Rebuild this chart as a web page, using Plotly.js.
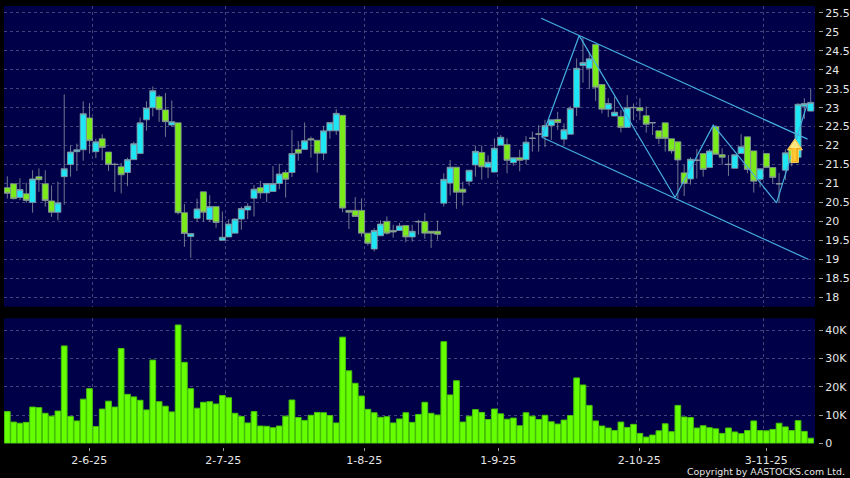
<!DOCTYPE html>
<html><head><meta charset="utf-8">
<script src="https://cdn.plot.ly/plotly-3.0.1.min.js"></script>
<style>html,body{margin:0;padding:0;background:#000}#c{width:850px;height:478px}</style>
</head><body><div id="c"></div>
<script>
const openP=[20.89,20.99,20.63,20.73,20.5,21.18,20.99,20.54,20.24,21.18,21.5,21.84,21.89,22.73,21.84,22.18,21.83,21.51,21.44,21.29,21.63,21.79,22.68,23.0,23.29,22.94,22.54,22.6,20.23,19.6,20.08,20.78,20.05,20.39,
19.5,19.59,19.69,20.06,20.3,20.61,20.89,20.75,20.79,21.0,21.29,21.29,21.9,21.9,22.18,22.14,21.8,22.39,22.39,22.8,20.29,20.29,20.29,19.69,19.27,19.62,20.0,19.76,19.76,19.89,19.59,20.0,20.0,19.74,19.74,
20.48,21.01,21.43,20.85,21.06,21.49,21.82,21.43,21.3,22.01,22.03,21.55,21.68,21.63,22.2,22.31,22.24,22.53,22.69,22.17,22.3,23.01,24.11,24.04,24.67,23.61,22.96,22.78,22.77,22.48,
23.01,23.0,22.79,22.61,22.39,22.6,22.18,22.1,21.28,21.12,21.62,21.79,21.42,22.5,21.76,21.51,21.4,21.79,22.23,21.86,21.11,21.79,21.42,21.0,21.35,21.9,21.69,23.04,22.91];
const highP=[21.19,20.99,21.14,21.02,21.35,21.4,21.35,20.95,21.05,23.35,22.0,22.05,23.17,23.12,22.18,22.3,21.83,21.55,21.54,21.68,22.1,22.74,23.17,23.56,23.34,23.39,23.19,22.6,20.46,19.68,20.6,20.78,20.69,20.39,
20.26,20.06,20.09,20.39,20.48,20.96,21.07,21.0,21.46,21.52,21.36,22.41,22.12,22.61,22.24,22.14,22.52,22.61,22.96,22.8,20.29,20.64,20.61,19.69,19.82,20.03,20.13,19.91,19.96,19.89,19.91,20.04,20.22,19.74,20.02,
21.27,21.62,21.43,21.05,21.35,22.0,22.0,21.74,22.19,22.28,22.19,21.68,21.89,22.25,22.37,22.54,22.68,22.68,22.89,22.59,23.04,24.3,24.87,24.47,24.67,23.61,23.25,23.29,22.94,23.33,
23.11,23.25,23.03,22.61,22.39,22.6,22.18,22.1,21.49,21.69,21.91,21.79,21.91,22.54,21.93,21.75,21.76,22.3,22.23,21.86,21.39,21.79,21.42,21.28,21.9,22.05,23.12,23.25,23.5];
const lowP=[20.6,20.58,20.56,20.49,20.23,20.78,20.39,20.12,20.03,20.44,21.18,21.33,21.6,21.79,21.67,21.61,21.33,20.78,20.74,20.93,21.63,21.79,22.39,22.77,22.62,22.23,22.49,20.18,19.33,19.04,19.99,19.99,19.99,19.83,
19.5,19.59,19.69,19.78,20.06,20.13,20.6,20.51,20.79,20.85,20.63,21.17,21.6,21.9,21.68,21.29,21.62,22.18,22.28,20.24,19.8,20.13,19.6,19.36,19.21,19.62,19.65,19.57,19.76,19.45,19.47,19.65,19.54,19.3,19.52,
20.39,20.68,20.33,20.42,20.94,21.18,21.1,21.14,21.3,22.01,21.27,21.47,21.32,21.51,21.84,21.84,21.96,22.15,22.41,22.02,22.3,22.78,23.66,23.49,23.18,22.85,22.75,22.78,22.35,22.48,
22.67,22.67,22.34,22.28,22.04,21.84,21.79,20.6,20.67,20.97,21.13,21.18,21.42,21.77,21.49,21.2,21.4,21.79,21.27,20.76,20.9,21.42,21.0,20.5,21.09,21.45,21.68,22.7,22.9];
const closeP=[20.74,20.6,20.84,20.55,21.12,21.1,20.55,20.24,20.49,21.39,21.83,21.89,22.84,22.13,22.1,21.95,21.5,21.5,21.23,21.63,22.05,22.6,22.99,23.45,22.95,22.63,22.63,20.23,19.68,19.68,20.33,20.24,20.39,19.97,
19.58,19.93,20.06,20.34,20.4,20.85,20.75,21.0,21.0,21.25,21.11,21.79,21.8,22.13,22.15,21.8,22.39,22.61,22.85,20.35,20.24,20.13,19.69,19.42,19.76,19.93,19.69,19.72,19.88,19.59,19.74,19.99,19.69,19.69,19.66,
21.11,21.43,20.77,20.77,21.35,21.85,21.44,21.56,21.93,22.22,21.61,21.68,21.61,22.09,22.19,22.3,22.53,22.68,22.61,22.42,22.98,24.04,24.19,24.29,23.54,22.96,23.11,22.88,22.48,23.0,
23.0,22.92,22.56,22.6,22.19,22.19,21.86,21.62,21.0,21.64,21.61,21.37,21.86,21.77,21.69,21.5,21.76,21.97,21.37,21.06,21.39,21.42,21.16,20.99,21.81,21.55,23.09,23.11,23.14];
const volumeK=[11.2,7.5,7.1,7.4,12.8,12.6,10.6,9.6,11.4,34.4,9.5,7.9,15.6,19.3,5.9,12.1,14.9,12.8,33.5,17.3,16.4,15.2,11.8,29.4,14.7,13.1,11.1,41.8,28.6,19.3,12.4,14.5,14.7,13.9,16.9,16.1,10.6,9.5,7.2,11.2,6.1,6.0,5.5,6.1,9.6,15.3,9.1,8.1,9.9,10.9,10.8,9.8,7.2,37.5,25.6,21.2,16.7,12,10.8,9.2,9.4,7.2,8.6,10.8,7.4,10.2,14.5,10.6,10,35.9,17.1,22.1,7.5,9.6,11.9,10.9,8.4,12.1,10.4,8.5,8.9,6.2,10.8,9.6,8.4,9.9,7.6,6.8,8.2,9.8,23.1,20.6,13.4,7.9,6.1,5.4,4.5,7.5,5.6,6.7,3.5,2.2,2.9,4.4,6.9,4.1,13.4,9.3,9.1,5.4,6.2,5.5,5.1,3.5,5.4,4,3.4,4.5,7.9,4.5,4.4,4.9,7.1,5.8,4.5,8,4.2,1.8];
const barIndex=volumeK.map((_,i)=>i);
const dateLabels=['2-6-25','2-7-25','1-8-25','1-9-25','2-10-25','3-11-25'];
const dateTickPos=[12.96,34.14,56.43,77.62,99.9,119.98];
const dateGridPos=[13.44,34.46,56.43,77.52,99.43,119.5];
const priceTicks=[18,18.5,19,19.5,20,20.5,21,21.5,22,22.5,23,23.5,24,24.5,25,25.5];
const volTicks=[0,10,20,30,40];
const volLabels=['0','10K','20K','30K','40K'];
const zigzagX=[84.5,90.4,105.55,111.6,121.6,126.4];
const zigzagY=[22.22,24.9,20.63,22.54,20.49,23.07];
const upperX=[84.4,126.5];
const upperY=[25.36,22.17];
const lowerX=[84.5,126.6];
const lowerY=[22.22,19.0];
const W=850,H=478;
const gridC='#43437c',tickC='#9a9a9a',textC='#e6e6e6';
const font={family:'"DejaVu Sans",sans-serif',size:11,color:textC};
const lineTrace=(x,y)=>({type:'scatter',mode:'lines',x,y,xaxis:'x',yaxis:'y',line:{color:'#45aee0',width:1.2},hoverinfo:'skip',showlegend:false});
const traces=[
{type:'candlestick',x:barIndex,open:openP,high:highP,low:lowP,close:closeP,xaxis:'x',yaxis:'y',whiskerwidth:0,
 increasing:{line:{color:'#8a95a0',width:0.8},fillcolor:'#1fe6f5'},
 decreasing:{line:{color:'#8a95a0',width:0.8},fillcolor:'#7aea1a'},showlegend:false},
lineTrace(zigzagX,zigzagY),lineTrace(upperX,upperY),lineTrace(lowerX,lowerY),
{type:'bar',x:barIndex,y:volumeK,xaxis:'x',yaxis:'y2',marker:{color:'#66ff00',line:{color:'#48c408',width:1}},showlegend:false}
];
const layout={
 width:W,height:H,margin:{l:0,r:0,t:0,b:0},paper_bgcolor:'#000',plot_bgcolor:'#000048',font,showlegend:false,
 bargap:0.1,boxmode:'overlay',boxgap:0.04,boxgroupgap:0,
 xaxis:{domain:[4/W,815/W],range:[-0.52,127.68],anchor:'free',position:1-447/H,rangeslider:{visible:false},
  tickmode:'array',tickvals:dateTickPos,ticktext:dateLabels,ticks:'outside',ticklen:3,tickcolor:tickC,tickwidth:1,
  showgrid:false,showline:false,zeroline:false,
  minor:{tickmode:'array',tickvals:dateGridPos,showgrid:true,gridcolor:gridC,griddash:'3px,3px',gridwidth:1,ticks:''},
  tickfont:font},
 yaxis:{domain:[1-306.7/H,1-6/H],range:[17.749,25.683],anchor:'free',position:818/W,side:'right',
  tickmode:'array',tickvals:priceTicks,ticktext:priceTicks.map(String),ticks:'outside',ticklen:4,tickcolor:tickC,
  showgrid:true,gridcolor:gridC,griddash:'3px,3px',gridwidth:1,showline:false,zeroline:false,tickfont:font},
 yaxis2:{domain:[1-443.5/H,1-318.3/H],range:[-0.07,44.17],anchor:'free',position:818/W,side:'right',
  tickmode:'array',tickvals:volTicks,ticktext:volLabels,ticks:'outside',ticklen:4,tickcolor:tickC,
  showgrid:true,gridcolor:gridC,griddash:'3px,3px',gridwidth:1,showline:false,zeroline:false,tickfont:font},
 shapes:[
  {type:'path',xref:'x',yref:'y',xsizemode:'pixel',ysizemode:'pixel',xanchor:124.5,yanchor:21.86,
   path:'M 0 12 L 7.5 1 L 3.5 1 L 3.5 -11.5 L -3.5 -11.5 L -3.5 1 L -7.5 1 Z',
   fillcolor:'#efa918',line:{color:'#fbd65e',width:1},layer:'above'},
  {type:'path',xref:'x',yref:'y',xsizemode:'pixel',ysizemode:'pixel',xanchor:124.5,yanchor:21.86,
   path:'M 0 11 L 5.5 3 L -5.5 3 Z',
   fillcolor:'#ffe680',line:{width:0},layer:'above'},
  {type:'path',xref:'x',yref:'y',xsizemode:'pixel',ysizemode:'pixel',xanchor:124.5,yanchor:21.86,
   path:'M -2.5 3 L 1.5 3 L 1.5 -10 L -2.5 -10 Z',
   fillcolor:'#ffc733',line:{width:0},layer:'above'}
 ],
 annotations:[{text:'Copyright by AASTOCKS.com Ltd.',xref:'paper',yref:'paper',x:847/W,y:1-471/H,xanchor:'right',yanchor:'middle',showarrow:false,font:{family:'"DejaVu Sans",sans-serif',size:9.4,color:textC}}]
};
Plotly.newPlot('c',traces,layout,{displayModeBar:false,staticPlot:true});
</script></body></html>
